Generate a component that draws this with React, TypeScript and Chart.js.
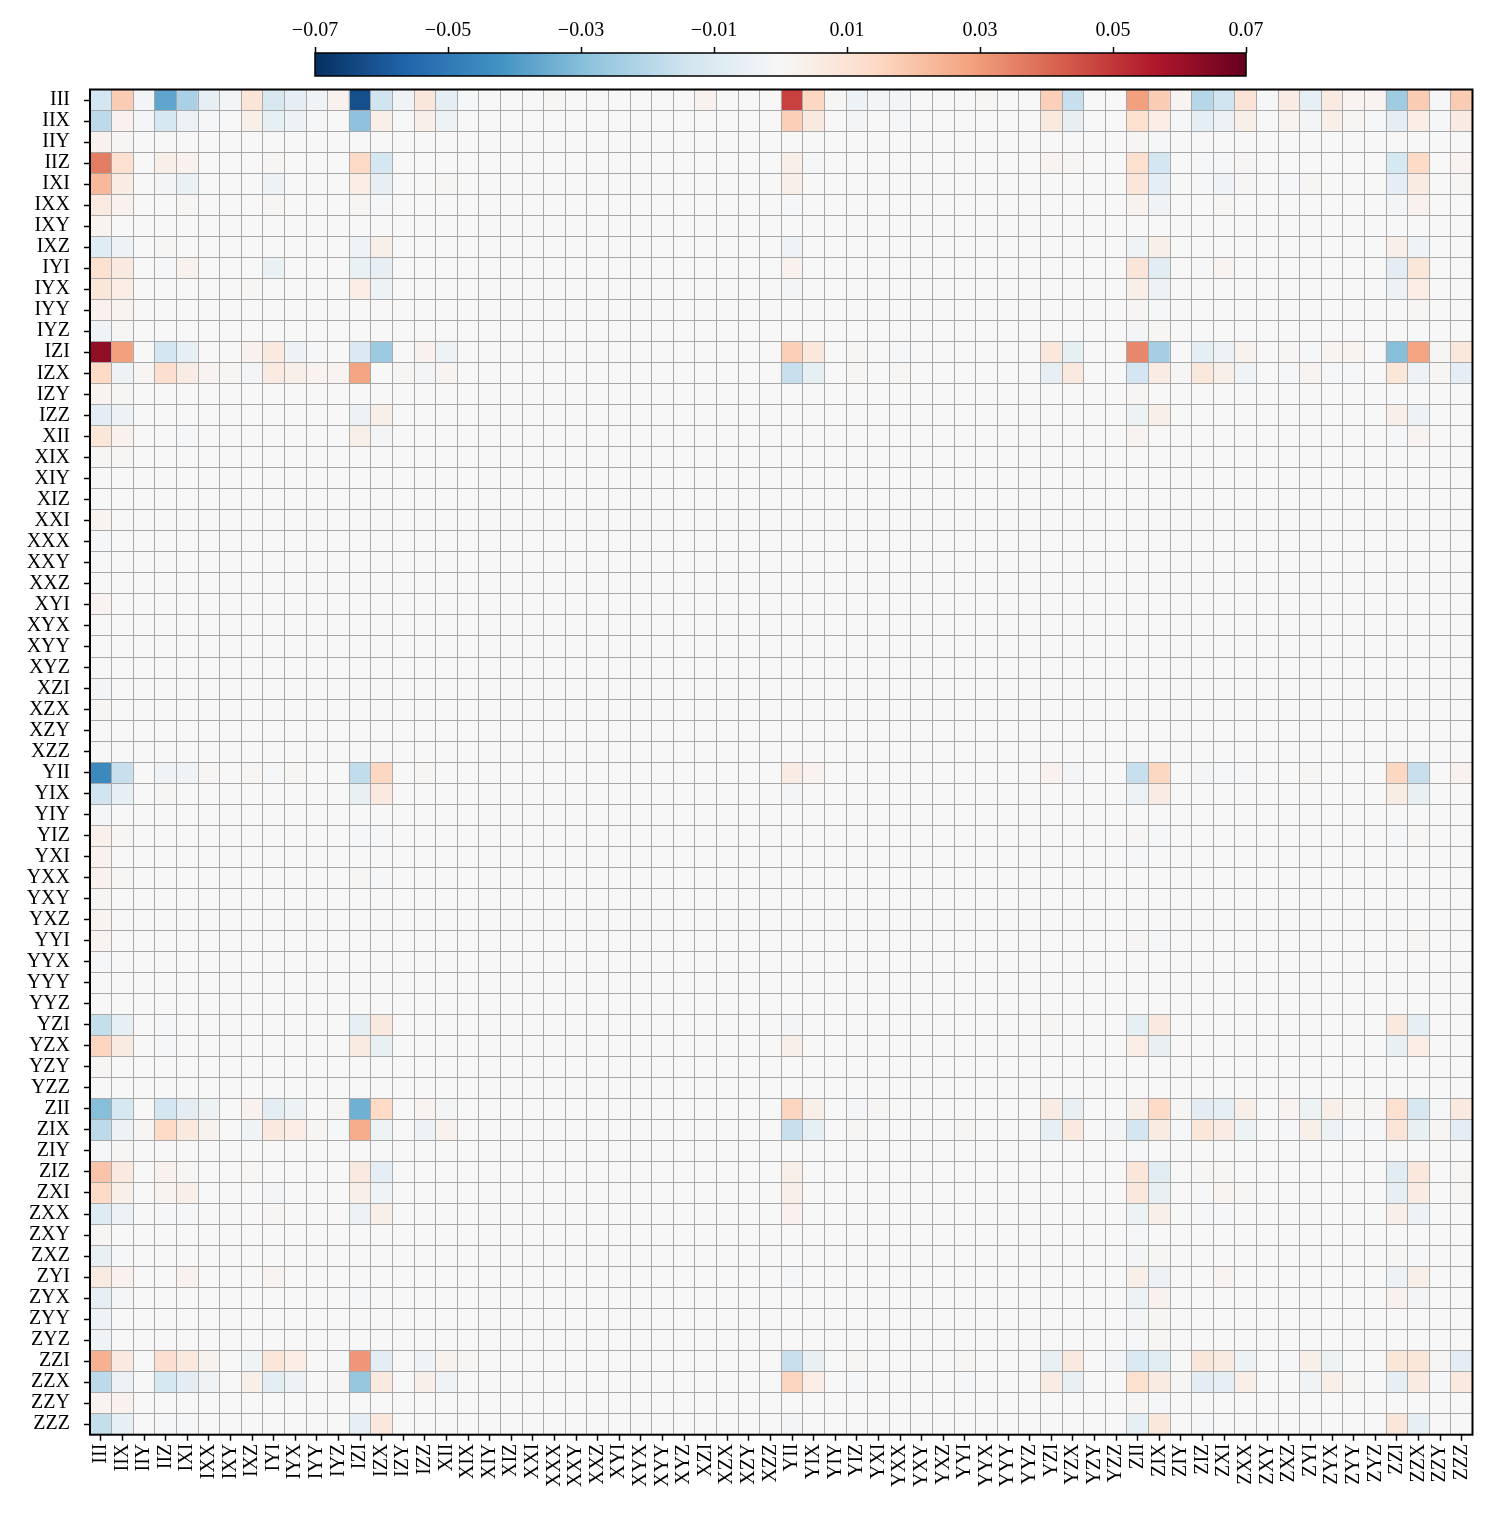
import { useEffect, useRef } from "react";
import { Chart, registerables } from "chart.js";

Chart.register(...registerables);

// Pauli-string labels (rows and columns share the same order)
const rowLabels = [
  "III", "IIX", "IIY", "IIZ", "IXI", "IXX", "IXY", "IXZ", "IYI", "IYX", "IYY", "IYZ", "IZI", "IZX", "IZY", "IZZ",
  "XII", "XIX", "XIY", "XIZ", "XXI", "XXX", "XXY", "XXZ", "XYI", "XYX", "XYY", "XYZ", "XZI", "XZX", "XZY", "XZZ",
  "YII", "YIX", "YIY", "YIZ", "YXI", "YXX", "YXY", "YXZ", "YYI", "YYX", "YYY", "YYZ", "YZI", "YZX", "YZY", "YZZ",
  "ZII", "ZIX", "ZIY", "ZIZ", "ZXI", "ZXX", "ZXY", "ZXZ", "ZYI", "ZYX", "ZYY", "ZYZ", "ZZI", "ZZX", "ZZY", "ZZZ",
];
const colLabels = rowLabels;

// Non-zero cells: [rowIndex, colIndex, value]; every other cell is 0
const cellValues: [number, number, number][] = [
  // III
  [0, 0, -0.013], [0, 1, 0.018], [0, 2, -0.002], [0, 3, -0.037], [0, 4, -0.023], [0, 5, -0.0063], [0, 6, -0.002], [0, 7, 0.009],
  [0, 8, -0.0115], [0, 9, -0.007], [0, 10, -0.003], [0, 11, 0.003], [0, 12, -0.062], [0, 13, -0.014], [0, 14, -0.003], [0, 15, 0.008],
  [0, 16, -0.007], [0, 17, -0.001], [0, 21, 0.001], [0, 28, 0.003], [0, 32, 0.048], [0, 33, 0.015], [0, 34, 0.001], [0, 35, -0.004],
  [0, 36, -0.002], [0, 37, -0.002], [0, 41, 0.001], [0, 44, 0.017], [0, 45, -0.016], [0, 48, 0.029], [0, 49, 0.018], [0, 50, 0.002],
  [0, 51, -0.02], [0, 52, -0.014], [0, 53, 0.0095], [0, 54, -0.001], [0, 55, 0.0055], [0, 56, -0.0063], [0, 57, 0.006], [0, 58, 0.002],
  [0, 59, 0.002], [0, 60, -0.025], [0, 61, 0.018], [0, 62, -0.001], [0, 63, 0.018],
  // IIX
  [1, 0, -0.0187], [1, 1, 0.003], [1, 2, -0.0015], [1, 3, -0.012], [1, 4, -0.0045], [1, 5, -0.001], [1, 7, 0.004], [1, 8, -0.0063],
  [1, 9, -0.004], [1, 10, -0.001], [1, 12, -0.0285], [1, 13, 0.004], [1, 15, 0.004], [1, 16, -0.0037], [1, 32, 0.017], [1, 33, 0.007],
  [1, 35, -0.002], [1, 37, -0.001], [1, 44, 0.007], [1, 45, -0.006], [1, 48, 0.011], [1, 49, 0.005], [1, 50, -0.001], [1, 51, -0.007],
  [1, 52, -0.004], [1, 53, 0.004], [1, 55, 0.002], [1, 56, -0.002], [1, 57, 0.004], [1, 58, 0.001], [1, 59, -0.001], [1, 60, -0.007],
  [1, 61, 0.005], [1, 62, -0.001], [1, 63, 0.006],
  // IIY
  [2, 0, 0.003], [2, 1, 0.001], [2, 48, 0.001], [2, 49, -0.001],
  // IIZ
  [3, 0, 0.036], [3, 1, 0.0115], [3, 3, 0.004], [3, 4, 0.003], [3, 8, 0.001], [3, 12, 0.014], [3, 13, -0.0125], [3, 32, 0.004],
  [3, 33, -0.001], [3, 44, 0.002], [3, 45, 0.001], [3, 48, 0.0115], [3, 49, -0.013], [3, 51, -0.001], [3, 52, -0.001], [3, 53, 0.001],
  [3, 60, -0.012], [3, 61, 0.014], [3, 63, 0.002],
  // IXI
  [4, 0, 0.023], [4, 1, 0.0055], [4, 3, -0.002], [4, 4, -0.005], [4, 8, -0.004], [4, 12, 0.005], [4, 13, -0.006], [4, 16, 0.001],
  [4, 32, 0.004], [4, 48, 0.0085], [4, 49, -0.007], [4, 51, -0.001], [4, 52, -0.003], [4, 53, 0.001], [4, 55, -0.001], [4, 56, 0.001],
  [4, 60, -0.007], [4, 61, 0.006], [4, 63, 0.001],
  // IXX
  [5, 0, 0.0065], [5, 1, 0.003], [5, 4, 0.001], [5, 8, 0.001], [5, 12, 0.001], [5, 13, -0.001], [5, 32, -0.001], [5, 48, 0.003],
  [5, 49, -0.003], [5, 52, 0.001], [5, 60, -0.002], [5, 61, 0.003],
  // IXY
  [6, 0, 0.002],
  // IXZ
  [7, 0, -0.0085], [7, 1, -0.0037], [7, 3, 0.001], [7, 12, -0.003], [7, 13, 0.004], [7, 32, -0.003], [7, 48, -0.003], [7, 49, 0.004],
  [7, 60, 0.004], [7, 61, -0.003],
  // IYI
  [8, 0, 0.0115], [8, 1, 0.007], [8, 3, -0.001], [8, 4, 0.003], [8, 8, -0.005], [8, 12, -0.005], [8, 13, -0.006], [8, 32, 0.003],
  [8, 48, 0.009], [8, 49, -0.008], [8, 51, -0.001], [8, 52, 0.002], [8, 60, -0.0074], [8, 61, 0.0085],
  // IYX
  [9, 0, 0.0085], [9, 1, 0.005], [9, 7, 0.001], [9, 12, 0.005], [9, 13, -0.004], [9, 32, -0.002], [9, 48, 0.004], [9, 49, -0.0045],
  [9, 60, -0.0044], [9, 61, 0.005],
  // IYY
  [10, 0, 0.003], [10, 1, 0.002], [10, 48, 0.001], [10, 49, -0.001], [10, 61, 0.001],
  // IYZ
  [11, 0, -0.003], [11, 1, 0.001], [11, 48, -0.002], [11, 49, 0.001],
  // IZI
  [12, 0, 0.062], [12, 1, 0.029], [12, 3, -0.013], [12, 4, -0.0063], [12, 7, 0.003], [12, 8, 0.007], [12, 9, -0.0037], [12, 10, -0.001],
  [12, 12, -0.0103], [12, 13, -0.026], [12, 15, 0.003], [12, 16, -0.0044], [12, 32, 0.017], [12, 33, 0.0075], [12, 35, 0.001],
  [12, 37, -0.001], [12, 44, 0.0075], [12, 45, -0.0063], [12, 48, 0.034], [12, 49, -0.024], [12, 51, -0.007], [12, 52, -0.0037],
  [12, 53, 0.003], [12, 55, 0.001], [12, 56, -0.001], [12, 57, 0.002], [12, 58, 0.002], [12, 60, -0.03], [12, 61, 0.028],
  [12, 62, 0.001], [12, 63, 0.0075],
  // IZX
  [13, 0, 0.014], [13, 1, -0.0037], [13, 2, 0.001], [13, 3, 0.012], [13, 4, 0.0055], [13, 5, 0.002], [13, 6, 0.001], [13, 7, -0.002],
  [13, 8, 0.006], [13, 9, 0.004], [13, 10, 0.002], [13, 11, 0.002], [13, 12, 0.028], [13, 14, 0.001], [13, 15, -0.002], [13, 16, 0.002],
  [13, 32, -0.016], [13, 33, -0.0063], [13, 35, 0.001], [13, 37, 0.001], [13, 44, -0.006], [13, 45, 0.007], [13, 48, -0.013],
  [13, 49, 0.0055], [13, 50, 0.001], [13, 51, 0.0075], [13, 52, 0.004], [13, 53, -0.003], [13, 55, -0.001], [13, 56, 0.002],
  [13, 57, -0.001], [13, 58, -0.001], [13, 60, 0.0085], [13, 61, -0.0044], [13, 62, 0.001], [13, 63, -0.007],
  // IZY
  [14, 0, 0.002], [14, 1, 0.001], [14, 48, 0.001],
  // IZZ
  [15, 0, -0.0074], [15, 1, -0.0037], [15, 12, -0.0037], [15, 13, 0.004], [15, 48, -0.0037], [15, 49, 0.004], [15, 60, 0.004],
  [15, 61, -0.0037],
  // X** rows
  [16, 0, 0.0085], [16, 1, 0.003], [16, 4, -0.001], [16, 12, 0.004], [16, 13, -0.002], [16, 48, 0.002], [16, 60, -0.001], [16, 61, 0.002],
  [17, 0, 0.001], [17, 1, 0.001], [20, 0, 0.002], [21, 0, -0.001], [24, 0, 0.002], [28, 0, -0.002], [29, 0, 0.001],
  // YII
  [32, 0, -0.045], [32, 1, -0.016], [32, 3, -0.003], [32, 4, -0.003], [32, 5, 0.001], [32, 7, 0.001], [32, 8, -0.001], [32, 9, 0.001],
  [32, 12, -0.0175], [32, 13, 0.015], [32, 15, 0.001], [32, 32, 0.0055], [32, 33, 0.002], [32, 44, 0.003], [32, 45, -0.002],
  [32, 48, -0.016], [32, 49, 0.015], [32, 51, -0.002], [32, 52, -0.001], [32, 53, -0.001], [32, 56, 0.001], [32, 60, 0.015],
  [32, 61, -0.016], [32, 63, 0.003],
  // YIX
  [33, 0, -0.014], [33, 1, -0.0063], [33, 3, 0.001], [33, 12, -0.0055], [33, 13, 0.007], [33, 32, -0.002], [33, 48, -0.0044],
  [33, 49, 0.0055], [33, 60, 0.0055], [33, 61, -0.0055],
  // YIY .. YYX
  [34, 0, -0.0015],
  [35, 0, 0.0035], [35, 1, 0.001], [35, 12, -0.001], [35, 13, -0.001], [35, 48, 0.001], [35, 49, -0.001], [35, 60, -0.001], [35, 61, 0.001],
  [36, 0, 0.003], [36, 48, -0.001],
  [37, 0, 0.003], [37, 1, 0.001], [37, 12, 0.001], [37, 13, -0.001],
  [38, 0, 0.001], [39, 0, 0.002],
  [40, 0, 0.002], [40, 48, 0.001], [40, 49, -0.001], [40, 61, 0.001],
  [41, 0, -0.001],
  // YZI
  [44, 0, -0.017], [44, 1, -0.0063], [44, 3, -0.001], [44, 12, -0.0063], [44, 13, 0.007], [44, 32, -0.002], [44, 44, 0.001],
  [44, 48, -0.0063], [44, 49, 0.007], [44, 60, 0.007], [44, 61, -0.0063],
  // YZX
  [45, 0, 0.0155], [45, 1, 0.006], [45, 3, -0.001], [45, 12, 0.006], [45, 13, -0.0055], [45, 32, 0.004], [45, 48, 0.005],
  [45, 49, -0.0055], [45, 60, -0.0055], [45, 61, 0.005],
  [46, 0, 0.001],
  // ZII
  [48, 0, -0.03], [48, 1, -0.012], [48, 3, -0.013], [48, 4, -0.0074], [48, 5, -0.0037], [48, 7, 0.003], [48, 8, -0.0074],
  [48, 9, -0.0037], [48, 11, 0.001], [48, 12, -0.034], [48, 13, 0.014], [48, 15, 0.002], [48, 16, -0.002], [48, 32, 0.0155],
  [48, 33, 0.004], [48, 35, -0.0015], [48, 36, 0.001], [48, 44, 0.0055], [48, 45, -0.0055], [48, 48, 0.004], [48, 49, 0.014],
  [48, 50, 0.001], [48, 51, -0.0074], [48, 52, -0.0063], [48, 53, 0.004], [48, 55, 0.002], [48, 56, -0.0037], [48, 57, 0.004],
  [48, 58, 0.001], [48, 59, 0.001], [48, 60, 0.011], [48, 61, -0.0115], [48, 62, -0.001], [48, 63, 0.007],
  // ZIX
  [49, 0, -0.0187], [49, 1, -0.004], [49, 2, 0.001], [49, 3, 0.014], [49, 4, 0.007], [49, 5, 0.003], [49, 7, -0.003], [49, 8, 0.007],
  [49, 9, 0.005], [49, 10, 0.001], [49, 11, -0.001], [49, 12, 0.026], [49, 13, -0.0037], [49, 15, -0.0037], [49, 16, 0.003],
  [49, 32, -0.016], [49, 33, -0.0063], [49, 35, 0.001], [49, 40, 0.001], [49, 44, -0.0063], [49, 45, 0.007], [49, 47, -0.002],
  [49, 48, -0.013], [49, 49, 0.006], [49, 50, -0.001], [49, 51, 0.0085], [49, 52, 0.0055], [49, 53, -0.0037], [49, 55, -0.001],
  [49, 56, 0.004], [49, 57, -0.0037], [49, 58, -0.001], [49, 59, -0.001], [49, 60, 0.009], [49, 61, -0.0055], [49, 62, 0.001],
  [49, 63, -0.0074],
  // ZIY
  [50, 0, -0.001], [50, 1, 0.001], [50, 48, -0.001],
  // ZIZ
  [51, 0, 0.02], [51, 1, 0.007], [51, 3, 0.003], [51, 4, 0.001], [51, 7, 0.001], [51, 12, 0.007], [51, 13, -0.007], [51, 32, 0.004],
  [51, 48, 0.0085], [51, 49, -0.0081], [51, 51, 0.001], [51, 52, 0.001], [51, 60, -0.0081], [51, 61, 0.0075], [51, 63, 0.001],
  // ZXI
  [52, 0, 0.014], [52, 1, 0.004], [52, 3, 0.002], [52, 4, 0.004], [52, 8, -0.002], [52, 12, 0.004], [52, 13, -0.003], [52, 32, 0.004],
  [52, 48, 0.0075], [52, 49, -0.0055], [52, 51, -0.001], [52, 52, 0.002], [52, 53, 0.001], [52, 60, -0.0063], [52, 61, 0.0055],
  [52, 63, 0.001],
  // ZXX
  [53, 0, -0.009], [53, 1, -0.0044], [53, 3, -0.001], [53, 4, -0.001], [53, 8, 0.001], [53, 12, -0.0044], [53, 13, 0.004],
  [53, 32, 0.003], [53, 48, -0.0037], [53, 49, 0.004], [53, 51, -0.001], [53, 52, -0.001], [53, 60, 0.004], [53, 61, -0.0037],
  // ZXY, ZXZ
  [54, 0, 0.001], [54, 48, -0.001],
  [55, 0, -0.0055], [55, 1, -0.001], [55, 48, -0.002], [55, 49, 0.001], [55, 60, 0.001], [55, 61, -0.001],
  // ZYI
  [56, 0, 0.006], [56, 1, 0.003], [56, 4, 0.003], [56, 8, 0.002], [56, 32, -0.001], [56, 48, 0.004], [56, 49, -0.0044], [56, 52, 0.002],
  [56, 60, -0.0044], [56, 61, 0.004],
  // ZYX, ZYY, ZYZ
  [57, 0, -0.0063], [57, 1, -0.0015], [57, 12, -0.001], [57, 48, -0.0037], [57, 49, 0.003], [57, 60, 0.003], [57, 61, -0.002],
  [58, 0, -0.003], [58, 48, -0.002], [58, 49, 0.001],
  [59, 0, -0.003], [59, 48, -0.001], [59, 49, 0.001],
  // ZZI
  [60, 0, 0.025], [60, 1, 0.007], [60, 3, 0.012], [60, 4, 0.007], [60, 5, 0.003], [60, 7, -0.003], [60, 8, 0.0085], [60, 9, 0.005],
  [60, 11, -0.001], [60, 12, 0.031], [60, 13, -0.0074], [60, 15, -0.003], [60, 16, 0.003], [60, 17, 0.001], [60, 32, -0.016],
  [60, 33, -0.0055], [60, 35, 0.001], [60, 40, 0.001], [60, 44, -0.0055], [60, 45, 0.007], [60, 47, -0.002], [60, 48, -0.0103],
  [60, 49, -0.0081], [60, 51, 0.008], [60, 52, 0.006], [60, 53, -0.0037], [60, 55, -0.001], [60, 56, 0.004], [60, 57, -0.0037],
  [60, 60, 0.0085], [60, 61, 0.0085], [60, 62, 0.001], [60, 63, -0.0074],
  // ZZX
  [61, 0, -0.0187], [61, 1, -0.0044], [61, 3, -0.012], [61, 4, -0.0074], [61, 5, -0.003], [61, 7, 0.004], [61, 8, -0.0074],
  [61, 9, -0.0044], [61, 11, 0.001], [61, 12, -0.027], [61, 13, 0.007], [61, 15, 0.004], [61, 16, -0.003], [61, 32, 0.0155],
  [61, 33, 0.005], [61, 35, -0.001], [61, 40, -0.001], [61, 44, 0.0055], [61, 45, -0.0055], [61, 48, 0.0115], [61, 49, 0.006],
  [61, 50, 0.001], [61, 51, -0.0074], [61, 52, -0.0063], [61, 53, 0.004], [61, 56, -0.003], [61, 57, 0.004], [61, 58, 0.001],
  [61, 60, -0.0063], [61, 61, 0.006], [61, 62, -0.001], [61, 63, 0.007],
  // ZZY
  [62, 0, 0.002], [62, 1, 0.003], [62, 48, 0.001], [62, 49, -0.001],
  // ZZZ
  [63, 0, -0.017], [63, 1, -0.0063], [63, 3, -0.001], [63, 4, -0.001], [63, 12, -0.0063], [63, 13, 0.0075], [63, 32, -0.002],
  [63, 48, -0.0063], [63, 49, 0.0075], [63, 51, -0.001], [63, 60, 0.008], [63, 61, -0.0063],
];

const colorbarTicks = [-0.07, -0.05, -0.03, -0.01, 0.01, 0.03, 0.05, 0.07];
const vMin = -0.07;
const vMax = 0.07;
// RdBu_r colormap anchor colours (low -> high)
const rdbuR = [
  "#053061", "#2166ac", "#4393c3", "#92c5de", "#d1e5f0", "#f7f7f7",
  "#fddbc7", "#f4a582", "#d6604d", "#b2182b", "#67001f",
];

const FONT_FAMILY = "'Liberation Serif', 'Times New Roman', Times, serif";
const CELL_EDGE = "#a8a8a8";

function hexToRgb(h: string): number[] {
  return [1, 3, 5].map((i) => parseInt(h.slice(i, i + 2), 16));
}

function colorFor(v: number): string {
  let t = (v - vMin) / (vMax - vMin);
  t = Math.max(0, Math.min(1, t));
  const pos = t * (rdbuR.length - 1);
  const i = Math.min(rdbuR.length - 2, Math.floor(pos));
  const f = pos - i;
  const a = hexToRgb(rdbuR[i]);
  const b = hexToRgb(rdbuR[i + 1]);
  const c = a.map((x, k) => Math.round(x + (b[k] - x) * f));
  return `rgb(${c[0]},${c[1]},${c[2]})`;
}

const framePlugin = {
  id: "frame",
  afterDraw(chart: any) {
    const { ctx, chartArea } = chart;
    ctx.save();
    ctx.strokeStyle = "#000";
    ctx.lineWidth = 2;
    ctx.strokeRect(chartArea.left, chartArea.top, chartArea.right - chartArea.left, chartArea.bottom - chartArea.top);
    ctx.restore();
  },
};

const gradientPlugin = {
  id: "cbGradient",
  beforeDatasetsDraw(chart: any) {
    const { ctx, chartArea } = chart;
    const xs = chart.scales.x;
    const x0 = xs.getPixelForValue(vMin);
    const x1 = xs.getPixelForValue(vMax);
    const g = ctx.createLinearGradient(x0, 0, x1, 0);
    rdbuR.forEach((c, k) => g.addColorStop(k / (rdbuR.length - 1), c));
    ctx.save();
    ctx.fillStyle = g;
    ctx.fillRect(x0, chartArea.top, x1 - x0, chartArea.bottom - chartArea.top);
    ctx.strokeStyle = "#000";
    ctx.lineWidth = 1.5;
    ctx.strokeRect(x0, chartArea.top, x1 - x0, chartArea.bottom - chartArea.top);
    ctx.restore();
  },
};

export default function App() {
  const mainRef = useRef<HTMLCanvasElement | null>(null);
  const cbRef = useRef<HTMLCanvasElement | null>(null);

  useEffect(() => {
    const matrix = rowLabels.map(() => colLabels.map(() => 0));
    cellValues.forEach(([r, c, v]) => {
      matrix[r][c] = v;
    });

    const font = { family: FONT_FAMILY, size: 20 };

    const datasets = rowLabels.map((lab, r) => ({
      label: lab,
      data: colLabels.map(() => 1),
      backgroundColor: matrix[r].map(colorFor),
      borderWidth: 0,
      barPercentage: 1,
      categoryPercentage: 1,
    }));

    const main = new Chart(mainRef.current as HTMLCanvasElement, {
      type: "bar",
      data: { labels: colLabels, datasets },
      plugins: [framePlugin],
      options: {
        animation: false,
        responsive: false,
        maintainAspectRatio: false,
        layout: { padding: { left: 0, top: 89.5, right: 21.5, bottom: 0 } },
        plugins: { legend: { display: false }, tooltip: { enabled: false } },
        scales: {
          x: {
            type: "category",
            stacked: true,
            position: "bottom",
            offset: true,
            grid: { drawOnChartArea: false, offset: false, tickLength: 6, tickWidth: 1.5, tickColor: "#000" },
            border: { display: false },
            ticks: { autoSkip: false, minRotation: 90, maxRotation: 90, padding: 3, color: "#000", font },
            afterFit: (s: any) => {
              s.height = 90.3;
            },
          },
          xGrid: {
            type: "category",
            labels: colLabels,
            position: "bottom",
            offset: true,
            z: 1,
            grid: { offset: true, drawTicks: false, color: CELL_EDGE, lineWidth: 1, z: 1 },
            border: { display: false },
            ticks: { display: false },
            afterFit: (s: any) => {
              s.height = 0;
            },
          },
          y: {
            type: "linear",
            stacked: true,
            reverse: true,
            min: 0,
            max: rowLabels.length,
            position: "left",
            afterBuildTicks: (s: any) => {
              s.ticks = rowLabels.map((_, i) => ({ value: i + 0.5 }));
            },
            grid: { drawOnChartArea: false, tickLength: 6, tickWidth: 1.5, tickColor: "#000" },
            border: { display: false },
            ticks: {
              autoSkip: false,
              padding: 14,
              color: "#000",
              font,
              callback: (v: any) => rowLabels[Math.floor(Number(v))],
            },
            afterFit: (s: any) => {
              s.width = 90;
            },
          },
          yGrid: {
            type: "linear",
            min: 0,
            max: rowLabels.length,
            reverse: true,
            position: "left",
            z: 1,
            afterBuildTicks: (s: any) => {
              s.ticks = rowLabels.concat([""]).map((_, i) => ({ value: i }));
            },
            grid: { drawTicks: false, color: CELL_EDGE, lineWidth: 1, z: 1 },
            border: { display: false },
            ticks: { display: false },
            afterFit: (s: any) => {
              s.width = 0;
            },
          },
        },
      } as any,
    });

    const cb = new Chart(cbRef.current as HTMLCanvasElement, {
      type: "scatter",
      data: { datasets: [] },
      plugins: [gradientPlugin],
      options: {
        animation: false,
        responsive: false,
        maintainAspectRatio: false,
        layout: { padding: { left: 40, right: 40, top: 0, bottom: 6 } },
        plugins: { legend: { display: false }, tooltip: { enabled: false } },
        scales: {
          x: {
            type: "linear",
            position: "top",
            min: vMin,
            max: vMax,
            afterBuildTicks: (s: any) => {
              s.ticks = colorbarTicks.map((v) => ({ value: v }));
            },
            grid: { drawOnChartArea: false, tickLength: 6, tickWidth: 1.5, tickColor: "#000" },
            border: { display: false },
            ticks: {
              padding: 4,
              color: "#000",
              font,
              callback: (v: any) => (Number(v) < 0 ? "\u2212" : "") + Math.abs(Number(v)).toFixed(2),
            },
            afterFit: (s: any) => {
              s.height = 53;
            },
          },
          y: { display: false, min: 0, max: 1 },
        },
      } as any,
    });

    return () => {
      main.destroy();
      cb.destroy();
    };
  }, []);

  return (
    <div style={{ position: "absolute", left: 0, top: 0, width: 1494, height: 1525, background: "#fff" }}>
      <canvas ref={mainRef} width={1494} height={1525} style={{ position: "absolute", left: 0, top: 0 }} />
      <canvas ref={cbRef} width={1011} height={82} style={{ position: "absolute", left: 275, top: 0 }} />
    </div>
  );
}
